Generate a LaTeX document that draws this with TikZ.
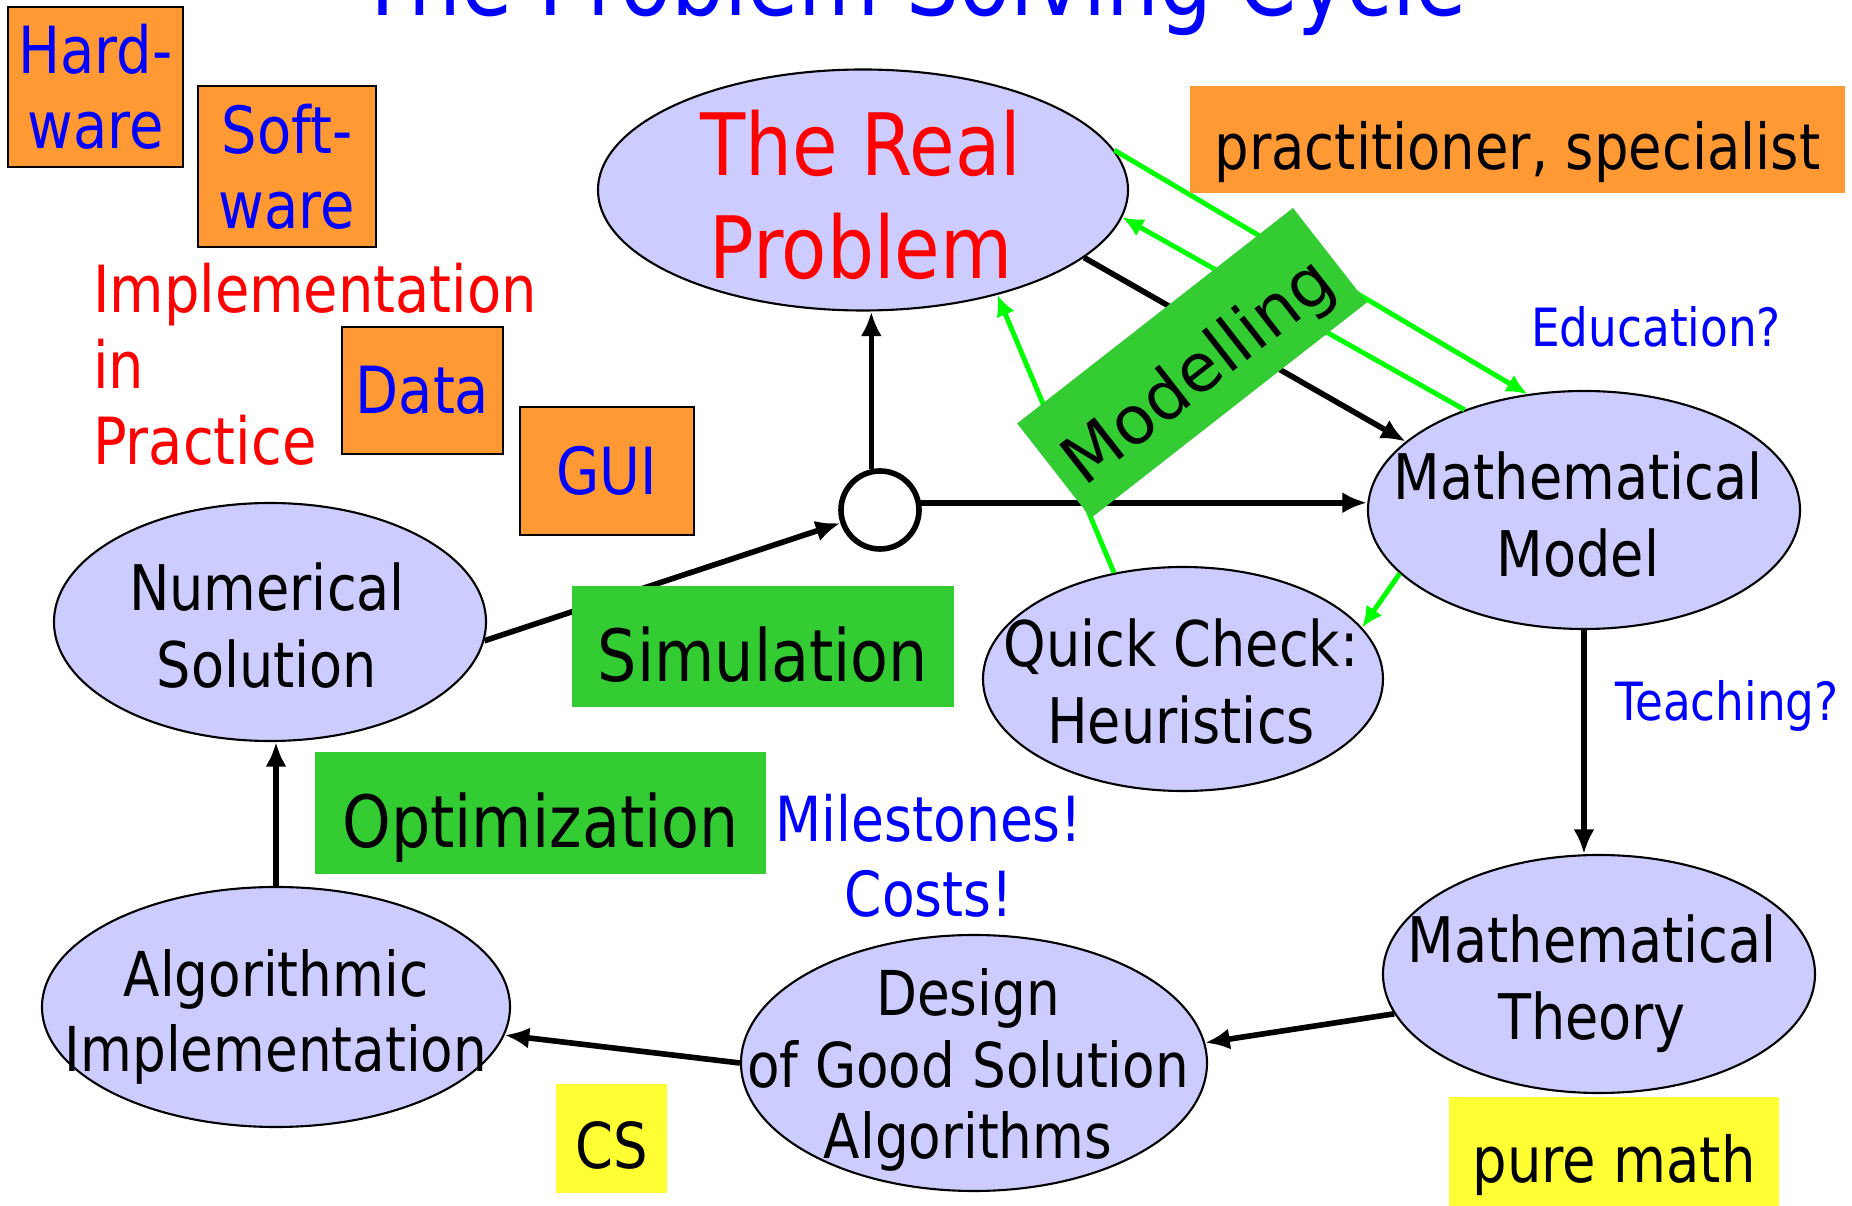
\documentclass[tikz,border=0pt]{standalone}
\usepackage{fontspec}
\setmainfont[FakeStretch=0.86]{DejaVu Sans}
\newfontfamily\wideface{DejaVu Sans}
\usetikzlibrary{shapes.geometric,arrows.meta}

\definecolor{lav}{HTML}{CCCCFF}
\definecolor{orng}{HTML}{FF9933}
\definecolor{leaf}{HTML}{33CC33}
\definecolor{greenline}{HTML}{00FF00}
\definecolor{lemon}{HTML}{FFFF33}

\begin{document}
\begin{tikzpicture}
[line width=0.6pt, >={Latex[length=7pt,width=6pt]},
blob/.style={ellipse, draw, fill=lav, line width=0.6pt, inner sep=0pt},
blobtxt/.style={align=center, inner sep=0pt, font=\fontsize{17.9}{21.9}\selectfont},
tag/.style={rectangle, draw, fill=orng, line width=0.5pt, inner sep=0pt, text=blue, align=center, font=\fontsize{18.5}{21.3}\selectfont},
skill/.style={rectangle, fill=leaf, inner sep=0pt, text height=19.7pt, text depth=0pt, font=\fontsize{20.5}{24}\selectfont},
who/.style={rectangle, inner sep=0pt, text height=16.9pt, text depth=0pt, font=\fontsize{18}{21.6}\selectfont},
note/.style={text=blue, align=center, inner sep=0pt},
flow/.style={->, line width=1.6pt},
hint/.style={->, draw=greenline, line width=1.4pt, >={Latex[length=6pt,width=5.5pt]}}]

\clip (0,0) rectangle (18.52,12.06);

\node[anchor=base, text=blue, font=\fontsize{27.6}{33}\selectfont] (title) at (9.12,11.90) {The Problem Solving Cycle};

% the stages of the cycle
\node[blob, minimum width=5.30cm, minimum height=2.41cm] (real) at (8.63,10.16) {};
\node[blobtxt, text=red, font=\fontsize{24.5}{29.5}\selectfont] (realtxt) at (8.61,10.11) {The Real\\Problem};

\node[blob, minimum width=4.32cm, minimum height=2.38cm] (model) at (15.84,6.96) {};
\node[blobtxt] (modeltxt) at (15.78,6.91) {Mathematical\\Model};

\node[blob, minimum width=4.00cm, minimum height=2.24cm] (quick) at (11.83,5.27) {};
\node[blobtxt] (quicktxt) at (11.81,5.24) {Quick Check:\\Heuristics};

\node[blob, minimum width=4.32cm, minimum height=2.38cm] (num) at (2.70,5.84) {};
\node[blobtxt] (numtxt) at (2.67,5.80) {Numerical\\Solution};

\node[blob, minimum width=4.68cm, minimum height=2.40cm] (alg) at (2.76,1.99) {};
\node[blobtxt, font=\fontsize{17.6}{21.5}\selectfont] (algtxt) at (2.76,1.89) {Algorithmic\\Implementation};

\node[blob, minimum width=4.66cm, minimum height=2.56cm] (design) at (9.74,1.43) {};
\node[blobtxt, font=\fontsize{17.6}{20.3}\selectfont] (designtxt) at (9.68,1.36) {Design\\of Good Solution\\Algorithms};

\node[blob, minimum width=4.32cm, minimum height=2.38cm] (theory) at (15.99,2.32) {};
\node[blobtxt] (theorytxt) at (15.92,2.22) {Mathematical\\Theory};

\node[circle, draw, fill=white, line width=1.6pt, inner sep=0pt, minimum size=0.78cm] (circ) at (8.80,6.96) {};

% black flow
\draw[flow] (circ.102) -- (circ.102 |- real.south);
\draw[flow] (circ.10) -- (circ.10 -| model.west);
\draw[flow] (num.-5) -- (circ);
\draw[flow] (real.-17) -- (model.159);
\draw[flow] (model.south) -- (model.south |- theory.north);
\draw[flow] (theory.191) -- (design.5);
\draw[flow] (design.west) -- (alg.-7);
\draw[flow] (alg.north) -- (alg.north |- num.south);

% green checks
\draw[hint] (real.9) -- (model.116);
\draw[hint] (model.140) -- (real.-6);
\draw[hint] (quick.123) -- (real.-38);
\draw[hint] (model.199) -- (quick.16);

% labels and boxes
\node[skill, rotate=38, minimum width=3.50cm, minimum height=1.20cm, text height=18.4pt, font=\wideface\fontsize{19}{23}\selectfont] (modelling) at (11.92,8.43) {Modelling};
\node[skill, minimum width=3.82cm, minimum height=1.21cm] (sim) at (7.63,5.595) {Simulation};
\node[skill, minimum width=4.51cm, minimum height=1.22cm] (opt) at (5.405,3.93) {Optimization};

\node[tag, minimum width=1.75cm, minimum height=1.60cm] (hard) at (0.955,11.19) {Hard-\\ware};
\node[tag, minimum width=1.78cm, minimum height=1.61cm] (soft) at (2.87,10.395) {Soft-\\ware};
\node[tag, minimum width=1.61cm, minimum height=1.27cm] (data) at (4.225,8.155) {Data};
\node[tag, minimum width=1.74cm, minimum height=1.28cm] (gui) at (6.07,7.35) {GUI};
\node[anchor=west, text=red, align=left, inner sep=0pt, font=\fontsize{18.5}{21.6}\selectfont] (practice) at (0.92,8.42) {Implementation\\in\\Practice};

\node[who, fill=orng, minimum width=6.55cm, minimum height=1.07cm] (prac) at (15.175,10.665) {practitioner, specialist};
\node[who, fill=lemon, minimum width=1.11cm, minimum height=1.09cm] (cs) at (6.115,0.675) {CS};
\node[who, fill=lemon, minimum width=3.30cm, minimum height=1.12cm] (pure) at (16.14,0.53) {pure math};

\node[note, font=\fontsize{15}{17}\selectfont] (edu) at (16.56,8.79) {Education?};
\node[note, font=\fontsize{15}{17}\selectfont] (teach) at (17.27,5.00) {Teaching?};
\node[note, font=\fontsize{17.7}{21.3}\selectfont] (miles) at (9.29,3.50) {Milestones!\\Costs!};
\end{tikzpicture}
\end{document}
